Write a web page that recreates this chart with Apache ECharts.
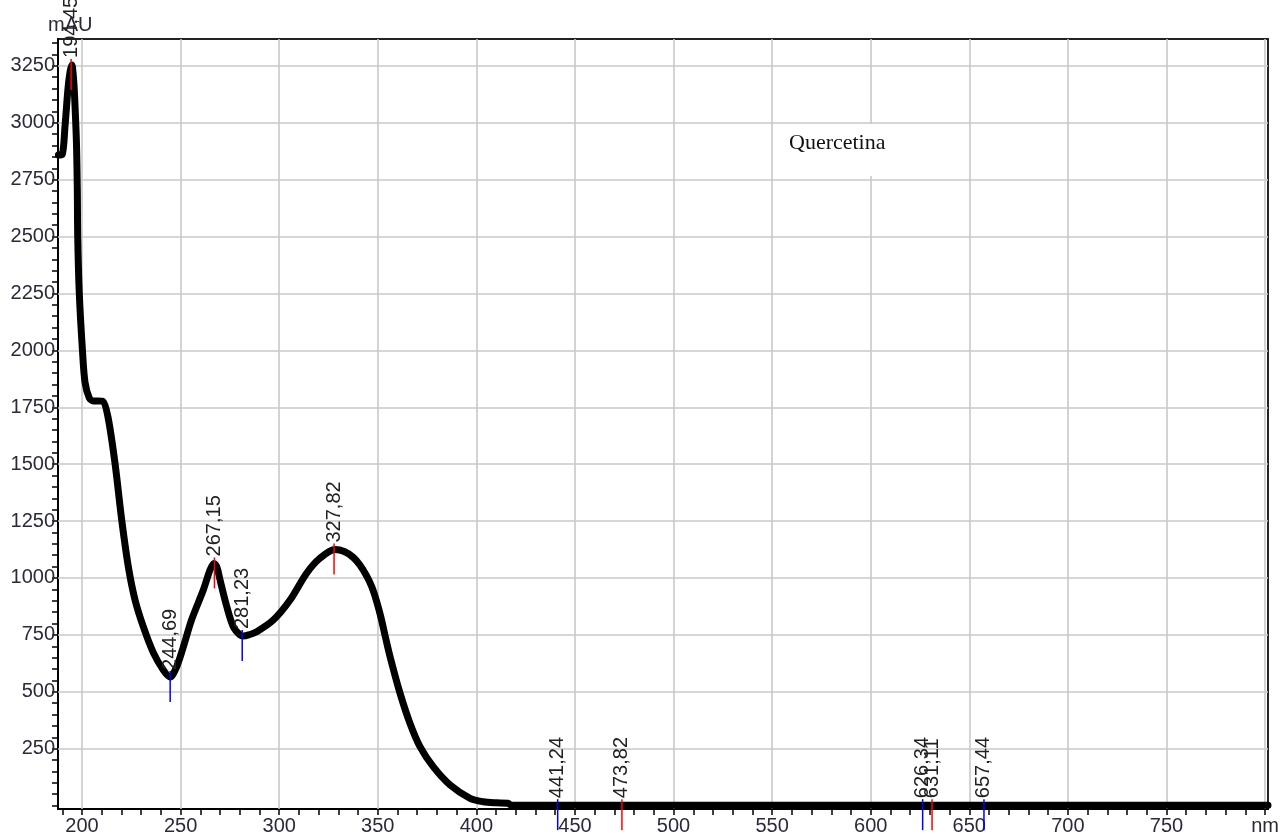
<!DOCTYPE html>
<html><head><meta charset="utf-8">
<script src="https://cdn.jsdelivr.net/npm/echarts@6/dist/echarts.min.js"></script>
<style>html,body{margin:0;padding:0;background:#fff}#c{width:1283px;height:840px}</style>
</head><body><div id="c"></div>
<script>
// ---- data ----
const wavelength = [188, 189.9, 191.4, 192.9, 193.9, 194.8, 195.8, 196.6, 197.2, 197.6,
  197.8, 198.6, 200.2, 201.5, 203.7, 205.7, 208.0, 210.6, 213.2, 216.7,
  220.1, 223.5, 226.9, 231.1, 236.2, 241.2, 244.7, 248.0, 251.4, 255.5,
  261.5, 264.9, 266.9, 268.5, 270.0, 273.4, 276.7, 280.1, 281.8, 284.5,
  288.6, 297.0, 305.5, 313.9, 320.7, 328.3, 333.0, 337.6, 341.0, 344.4,
  347.0, 349.3, 351.5, 354.0, 356.5, 361.3, 366.3, 371.4, 378.1, 386.6,
  396.8, 403.5, 410, 416, 417.5, 430, 500, 600, 700, 801.5];
const absorbance = [2858, 2860, 2990, 3153, 3223, 3254, 3180, 3040, 2900, 2700,
  2500, 2250, 2000, 1860, 1790, 1778, 1778, 1776, 1705, 1505,
  1256, 1048, 903, 785, 671, 596, 565, 610, 698, 815,
  947, 1035, 1064, 1045, 991, 874, 786, 750, 745, 750,
  764, 815, 903, 1021, 1087, 1125, 1116, 1090, 1056, 1008,
  960, 900, 830, 735, 645, 493, 362, 259, 171, 91,
  32, 17, 12, 10, 2, 2, 2, 2, 2, 2];

const peakNm    = [194.45, 244.69, 267.15, 281.23, 327.82, 441.24, 473.82, 626.34, 631.11, 657.44];
const peakValue = [3254, 565, 1064, 745, 1125, 2, 2, 2, 2, 2];
const peakKind  = ['max','min','max','min','max','min','max','min','max','min'];
const peakLabel = ['194,45','244,69','267,15','281,23','327,82','441,24','473,82','626,34','631,11','657,44'];

const xLabelValues = [200, 250, 300, 350, 400, 450, 500, 550, 600, 650, 700, 750, 800];
const yLabelValues = [250, 500, 750, 1000, 1250, 1500, 1750, 2000, 2250, 2500, 2750, 3000, 3250];
const xGridValues = [200, 250, 300, 350, 400, 450, 500, 550, 600, 650, 700, 750, 800];
const yGridValues = [250, 500, 750, 1000, 1250, 1500, 1750, 2000, 2250, 2500, 2750, 3000, 3250];
const xTickValues = []; for (let v = 190; v <= 800; v += 10) xTickValues.push(v);
const yTickValues = []; for (let v = 0; v <= 3350; v += 50) yTickValues.push(v);

const seriesName = 'Quercetina';
const xUnit = 'nm';
const yUnit = 'mAU';

// ---- chart ----
const chart = echarts.init(document.getElementById('c'), null, {renderer: 'canvas'});
const labelColor = '#2a2a3c';
const font = '"Liberation Sans", Arial, sans-serif';
const curve = wavelength.map((x, i) => [x, absorbance[i]]);
const peaks = peakNm.map((x, i) => [x, peakValue[i]]);

chart.setOption({
  animation: false,
  backgroundColor: '#fff',
  title: {
    text: seriesName, left: 780, top: 124, padding: [8, 10, 22, 9],
    backgroundColor: '#fff',
    textStyle: {fontFamily: '"Liberation Serif", "Times New Roman", serif', fontSize: 22, fontWeight: 'normal', color: '#111'}
  },
  graphic: [{type: 'text', left: 48, top: 15, style: {text: yUnit, font: '20px ' + font, fill: labelColor}}],
  grid: {left: 58, right: 15, top: 39, bottom: 31, show: true, borderColor: '#222', borderWidth: 2},
  xAxis: {
    type: 'value', min: 187.8, max: 801.5,
    axisLine: {show: true, onZero: false, lineStyle: {color: '#000', width: 2}},
    axisTick: {show: true, customValues: xTickValues, length: 6, lineStyle: {color: '#000', width: 1.5}},
    axisLabel: {customValues: xLabelValues, formatter: v => v === 800 ? xUnit : String(v),
      color: labelColor, fontSize: 20, fontFamily: font, margin: 7},
    splitLine: {show: false}
  },
  yAxis: {
    type: 'value', min: -15, max: 3368,
    axisLine: {show: true, onZero: false, lineStyle: {color: '#000', width: 2}},
    axisTick: {show: true, customValues: yTickValues, length: 6, lineStyle: {color: '#000', width: 1.5}},
    axisLabel: {customValues: yLabelValues, formatter: v => String(v), color: labelColor, fontSize: 20, fontFamily: font, margin: 3},
    splitLine: {show: false}
  },
  series: [
    {
      type: 'line', data: [], z: 1, silent: true,
      markLine: {
        silent: true, symbol: 'none', animation: false,
        label: {show: false},
        lineStyle: {type: 'solid', color: '#c8c8c8', width: 1.6},
        data: xGridValues.map(v => ({xAxis: v})).concat(yGridValues.map(v => ({yAxis: v})))
      }
    },
    {
      name: seriesName, type: 'line', data: curve, z: 5,
      showSymbol: false, symbol: 'none',
      smooth: 0.3,
      lineStyle: {color: '#000', width: 7, join: 'round', cap: 'round'}
    },
    {
      type: 'custom', data: peaks, z: 8, clip: false, silent: true,
      encode: {x: 0, y: 1},
      renderItem: function (params, api) {
        const i = params.dataIndex;
        const p = api.coord([api.value(0), api.value(1)]);
        const col = peakKind[i] === 'max' ? '#ff0000' : '#0000ff';
        return {type: 'group', children: [
          {type: 'line', shape: {x1: p[0], y1: p[1] - 6, x2: p[0], y2: p[1] + 25}, style: {stroke: col, lineWidth: 1.5}},
          {type: 'text', x: p[0], y: p[1] - 7, rotation: Math.PI / 2,
            style: {text: peakLabel[i], fill: '#222', font: '20px ' + font, align: 'left', verticalAlign: 'middle'}}
        ]};
      }
    }
  ]
});
</script>
</body></html>
